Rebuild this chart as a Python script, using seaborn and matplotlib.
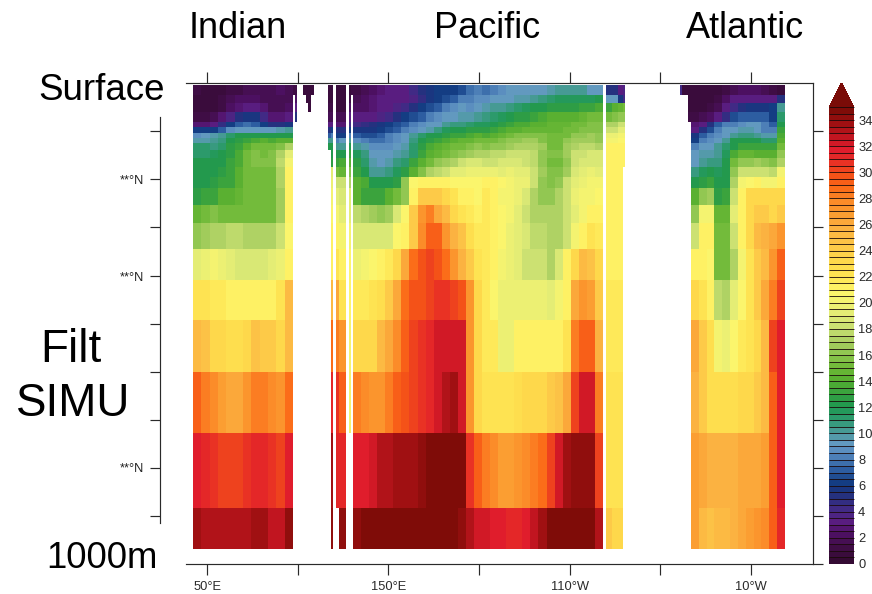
import numpy as np
import matplotlib
matplotlib.use("Agg")
import matplotlib.pyplot as plt
from matplotlib.colors import LinearSegmentedColormap
import seaborn as sns

n = np.nan
FONT = ["Liberation Sans", "DejaVu Sans"]

# depth layer edges (m)
depth_edges = [0, 21.6, 38.8, 58.2, 79.7, 90.5, 103.4, 114.2, 125, 140.1, 157.3, 176.7,
               198.3, 222, 258.6, 297.4, 353.4, 420.3, 506.5, 618.5, 750, 911.6, 1000]

# longitude section edges (deg E)
indian_lon = np.linspace(42.3, 97.4, 13)
indian_edge_lon = [97.4, 98.5, 99.6]
island_lon = [102.9, 104.6, 105.9, 107.3, 108.7]
warmpool_lon = [116.7, 118.1, 119.5, 121.1, 122.8, 126.6, 128.0, 129.4, 130.5]
pacific_lon = np.linspace(130.5, 268.3, 32)
pac_far_lon = [269.7, 273.3, 276.6, 279.3, 280.4]
atl_edge_lon = [310.5, 311.8, 315.4, 316.8]
atlantic_lon = np.linspace(316.8, 368.6, 13)

indian = [
 [1,.8,.8,.9,1.2,1.2,1.5,1.8,1.5,1.5,2,1.8],
 [.5,.5,.8,1,1.5,2,2,2,1.5,1.5,1.5,1.5],
 [.5,.5,.8,1,2,2.5,3,3,2.5,1.5,1.5,2],
 [1,1,1.5,2.5,3.5,5,5.5,5.5,4,2.5,2.5,3],
 [2.5,2.5,3,4.5,6,7,7.5,7,6,5,5,5.5],
 [6,6,6,7,8.5,9,9,9,9,9,9.5,10],
 [8.5,9,9.5,10,11,12,12,12,12,12,12,12],
 [9.5,9.5,10,10.5,12,12.5,13,13.5,14,13.5,14,14],
 [11,11,10.5,11,12.5,13,14,15,15,15,15.5,17],
 [11,11,11.5,12,12.5,13.5,15,15.5,15,15.5,17,19],
 [12,12,12,12,13,13.5,15,15.5,15.5,15.5,17.5,20],
 [12,12,12,12.5,13,14,15,15,15,15,17,21],
 [12,12,12.5,13,13,14,15,15,15,15,17,21],
 [12.5,13,13,14,14,14.5,15,15,15,15,16.5,21],
 [14.5,15,15.5,15,15,15,15,15,15,15,16.5,21],
 [16,16.5,17,17,17.5,17.5,17,17,17,17,18,20.5],
 [19,19.5,20,19.5,19,18.5,18.5,18.5,18.5,19,19.5,21],
 [22,22,21.5,21.5,21,21,21,21,21,21,22,25],
 [25,24.5,23.5,23,22.5,22.5,23.5,24.5,24,24,23.5,25],
 [29,28,27.5,26.5,26,26,27,28,28,27.5,27,28.5],
 [31.5,31,30.5,30,30,30,30.5,31,31,30.5,30,31.5],
 [33.5,33,33,33,33,33,33.3,33.8,33.5,32.5,32.5,34],
]
indian_edge = [[1, 1], [n, 2], [n, 3], [n, 5]]
island = [[.8, .8, .8, .8], [n, .8, .8, n], [n, n, .8, n]]

# columns: edge, strip, slit, strip, strip, slit, strip, narrow
warmpool = [
 [.8,.8,n,.6,.6,n,.6,1],
 [.8,.8,n,.6,.6,n,1,n],
 [1,1,n,.8,.8,n,2,n],
 [1.5,1.5,n,1.5,1.5,n,3,n],
 [3,3,n,2.5,2.5,n,4,n],
 [5,6,n,5,5,n,6,n],
 [7,8,n,6,6,n,8,n],
 [10,10,n,8,9,n,10,n],
 [12,12,n,10,10,n,12,n],
 [n,12,n,12,12,n,13,n],
 [n,12.5,n,13,13.5,n,14,n],
 [n,19,n,15,14.5,n,15.5,n],
 [n,19.5,n,18,18,n,17,n],
 [n,20,n,19,18.5,n,19,n],
 [n,20.5,n,20,19,n,19,n],
 [n,21,n,21,20,n,20,n],
 [n,21,n,22,21,n,20.5,n],
 [n,25,n,26,22,n,20.5,n],
 [n,28.5,n,28,27,n,20,n],
 [n,31,n,30.5,29,n,20,n],
 [n,33.5,n,31,31,n,n,n],
 [n,34,n,n,34,n,n,n],
]

pacific_west = [
 [1.2,1.5,2,2.8,3,3.2,3.2,4,5,5.5,6,6,6,6.5,7.5,8],
 [1.5,2,2.5,3,3,3,3.2,3.5,4.5,5.5,6,6.5,7,8,8,8.5],
 [2,2,2.5,3,3.2,3.5,4,5,6,6.5,7,8,8.5,9,8.5,9],
 [3,3,3.2,3.5,4,5,6,6.5,7,8,8.5,9,9,9.5,9.5,10],
 [4,4.5,5,5.5,6,6.5,7,8,8.5,9,9,10,10.5,10.5,11,11.5],
 [5.5,5.5,5.5,6,6.5,7,8,8.5,9,9.5,10.5,11.5,12,12,12.5,12.5],
 [7,6.5,6.5,7,8,8.5,9,10,11,12,12,12.5,13,13,13.5,14],
 [8.5,8,7.5,7.5,8,8.5,9,10.5,12,12.5,13,13.5,14,14.5,14.5,15],
 [10,9.5,8.5,8.5,8.5,9,9.5,11,12.5,13.5,14,14.5,15,15,15.5,16],
 [11.5,10.5,9,9,9,9.5,10,11,13,14,14.5,15,15.5,16,16.5,17],
 [12.5,11,9.5,9,9.5,10.5,11,13,14,15,16,16.5,17,18,18.5,18.5],
 [13,12,10,10,10.5,11.5,12.5,14,15.5,17,17.5,18,19,19,19.5,19.5],
 [14,13.5,12,12,12,12.5,16,20.5,21,21,21,21,20.5,20.5,20.5,20.5],
 [14,13,13,13,14,15,16,21,24,24,24,23,22,21,21,20.5],
 [17.5,17,16.5,16,16.5,18.5,20.5,24,27,28,26,25,23.5,22,21.5,21],
 [18.5,18.5,18.5,18.5,18.5,20.5,21,24,27.5,29,29,27,25.5,24.5,22.5,21.5],
 [19.5,20,20.5,21,21.5,23,26,28.5,29.5,30,29.5,28.5,27,25.5,24,22],
 [21.5,21.5,22,22.5,24,26,28.5,29.5,29.5,30,30.5,30.5,30,29.5,27,23.5],
 [23,23,23.5,25,26,27.5,29,30,30.5,31,32,32,32,32,27,23],
 [28,27.5,27,27,28,29,29.5,30,30.5,31,32,33,33.5,32,27,23.5],
 [31.5,31.5,32,33,33,33.5,33.5,33.5,34,34.5,35,35,35,34.5,30.5,29],
 [34,35,35,35,35,35,35,35,35,35,35,35,34.5,34,33,32],
]
pacific_east = [
 [7.5,8,8.5,9,9,9,9.2,9.2,9.5,10,10,10,10,9,9],
 [8.5,9,9,9,9.5,9.8,10,10.5,11,11.5,11.5,11.5,11.5,11.5,12],
 [9.5,10,10,10.5,11,11.5,12,12,12.5,12.5,12.5,12.5,13,13,13.5],
 [10.5,11,11.5,12,12.5,12.5,13,13.5,14,14,14,14,14.5,15,15],
 [11.5,12,12.5,13,13.5,13.5,14,14,14.5,14.5,14.5,15,15,15.5,15.5],
 [12.5,13,13.5,14,14,14.5,14.5,14.5,14.5,14.5,15,15,15.5,15.5,15.5],
 [13.5,14,14.5,15,15.5,15.5,15.5,15.5,15,15,15,16,16,16.5,16],
 [15,15,15.5,16,16,16.5,16.5,15.5,15,15,16,16.5,16.5,16.5,16],
 [15.5,16,16,16.5,17,17,17,16.5,15,15,16.5,17,17.5,17.5,17],
 [17,17.5,17.5,18,18,18,17.5,16,15.5,15.5,16.5,18,18,18.5,18.5],
 [18,18,18.5,18.5,18.5,18,17.5,16,15,15,16,18,18.5,18.5,18.5],
 [19.5,19.5,19,19.5,19,19,18,16.5,15.5,15.5,16.5,18.5,19,19.5,19],
 [21,21,20.5,20,19.5,19.5,18,16,15.5,16,18,19,19.5,20,20],
 [21.5,21,20,20,19.5,18.5,17,16,16,17,18,19.5,20,20,20.5],
 [21.5,21,20.5,20,19,18,17,17,17,17,18,19,20,21,21],
 [21.5,21,20.5,19.5,19,18.5,17.5,17.5,17,17,18,20,21,22,21.5],
 [21.5,21,20,19.5,19,18,18,18,17,18.5,21,23,25,24.5,23],
 [21.5,20.5,19.5,19.5,19.5,19.5,19.5,19.5,19,20,21,26,27,26.5,24],
 [21.5,21.5,19.5,19.5,21,21,21,21,21,21,22,28,29,29,25.5],
 [22,22,22,22,22.5,23,23,23.5,24,24.5,26,30,32,32,28],
 [28,27.5,26.5,26.5,27,27.5,28,28.5,30,32,33.5,34,34,34,30],
 [32,31.5,31.5,31,31,31.5,32.5,33.5,35,35,35,35,35,35,33],
]
pac_far = [
 [5,5,3,3.5],[9,9,5.5,4],[13,14,14.5,15],[15,15.5,16,16],[17,17,18,18],[18,18,19,19],
 [19.5,19.5,20,20],[20,20,20.5,20.5],[21,21,21,21],[21,21,21,21],[21,21,21,21],
 [21,21,21,n],[21,21,21,n],[21,21,21,n],[21,21,21,n],[21,21,21,n],[21,21,21,n],
 [21.5,21.5,21.5,n],[21.5,21.5,21.5,n],[22,22,22,n],[22,22,22,n],[24,23.5,23.5,n],
]
atl_edge = [[4, .8, .8], [n, n, .8], [n, n, .8], [n, n, 1]]
atlantic = [
 [.7,.7,.8,.8,1,1.5,2,2,2,1.8,1,.8],
 [.7,.7,.8,1,2,3,3,3,3,3,3,5],
 [.8,.8,1,1.5,3,4,5,5.5,5.5,5.5,6,10],
 [1,1.5,2,3,4.5,6.5,7,7,7,7,6,11],
 [2.5,3,5,7,8,8,8.5,9,9,8,7,12],
 [3,5,6.5,8,9,9,9.5,9.5,9,8,8,13],
 [5.5,7,8,8.5,9,10,10.5,10.5,10,9.5,9.5,13.5],
 [6,8,8.5,9,10,12,12,12,12,11,11,14],
 [8,9,9,10,11,12,13,13,13,13,13,15],
 [9,9.5,9.5,10,11.5,13.5,14.5,14.5,14,14,14,16],
 [9,10,10.5,10.5,12,15,16,16,16.5,16,15.5,17],
 [10.5,11.5,12,11.5,12,16,18,18,18,18,17.5,20],
 [12,12.5,13,12,12,17,20,20.5,21,20,20,21],
 [14,16,16.5,12.5,13,18,21,23,23,23,23,23],
 [16,20,20,14.5,14.5,19,21,23,24,24,23,24],
 [18,21,21,15,15,18,21,23,25,25.5,26,27],
 [21,21,20.5,15,15,17,20,22,24,25,27,29],
 [23.5,22,21,17.5,17,19,20.5,22,24,26,28,30],
 [26,24,22.5,20,19.5,20.5,21.5,22,23.5,25,30,31.5],
 [25.5,24,22.5,22.5,22.5,22.5,23,23.5,24,25,29,31.5],
 [26.5,26,25.5,25.5,25.5,25.5,26,26,26,26.5,29,31.5],
 [26.5,25,24.5,25,25,25.5,26,26.5,27,27.5,29,31],
]

colour_anchors = ["#340a33", "#3f0d45", "#4c1060", "#5a1c80", "#432a85", "#26307f",
                  "#123a80", "#2a5a9f", "#4a7cb5", "#6699c5", "#4a9a9a", "#2e9a70",
                  "#1f9850", "#35a040", "#55ae30", "#6cb836", "#8cc44e", "#a8cf60",
                  "#c5dd70", "#dfeb76", "#f0f272", "#fef66a", "#fee655", "#fedc4c",
                  "#fed04a", "#fcc045", "#fbb040", "#fb9c30", "#fb8a28", "#fb6a18",
                  "#f35018", "#e83025", "#e01c2c", "#c01520", "#a01012", "#7f0c08"]
cbar_ticks = list(range(0, 35, 2))
lon_ticks = [50, 100, 150, 200, 250, 300, 350]
lon_labels = ["50°E", "", "150°E", "", "110°W", "", "10°W"]
depth_ticks = [99, 203, 306, 412, 515, 618, 722, 825, 929, 1032]
depth_labels = ["", "**°N", "", "**°N", "", "", "", "**°N", "", ""]


def pad(rows):
    a = np.full((22, len(rows[0])), np.nan)
    a[:len(rows)] = rows
    return a


def gap():
    return np.full((22, 1), np.nan)


blocks = [
    (indian_lon, np.array(indian, float)),
    (indian_edge_lon, pad(indian_edge)),
    ([99.6, 102.9], gap()),
    (island_lon, pad(island)),
    ([108.7, 116.7], gap()),
    (warmpool_lon, np.array(warmpool, float)),
    (pacific_lon, np.hstack([pacific_west, pacific_east])),
    ([268.3, 269.7], gap()),
    (pac_far_lon, np.array(pac_far, float)),
    ([280.4, 310.5], gap()),
    (atl_edge_lon, pad(atl_edge)),
    (atlantic_lon, np.array(atlantic, float)),
]
lon_edges = np.unique(np.concatenate([np.asarray(b[0], float) for b in blocks]))
values = np.hstack([b[1] for b in blocks])
assert values.shape == (22, len(lon_edges) - 1)

# axes window: one heatmap cell per output pixel
W, H = 872, 594
AX_L, AX_R, AX_T, AX_B = 186, 813, 83, 564
nx, ny = AX_R - AX_L, AX_B - AX_T
lon0, lon1 = 38.4, 384.1
dep0, dep1 = -4.3, 1032.3
lon_c = lon0 + (np.arange(nx) + .5) * (lon1 - lon0) / nx
dep_c = dep0 + (np.arange(ny) + .5) * (dep1 - dep0) / ny
ci = np.searchsorted(lon_edges, lon_c) - 1
ri = np.searchsorted(depth_edges, dep_c) - 1
grid = np.full((ny, nx), np.nan)
for j, c in enumerate(ci):
    if 0 <= c < values.shape[1]:
        for i, r in enumerate(ri):
            if 0 <= r < 22:
                grid[i, j] = values[r, c]

sns.set_theme(style="white")
plt.rcParams["font.family"] = FONT
cmap = LinearSegmentedColormap.from_list("ncl", colour_anchors, N=70)
cmap.set_over("#7a0c08")

fig = plt.figure(figsize=(W / 100, H / 100), dpi=100, facecolor="white")
ax = fig.add_axes([AX_L / W, 1 - AX_B / H, nx / W, ny / H])
cax = fig.add_axes([829 / W, 1 - AX_B / H, 25 / W, (AX_B - AX_T) / H])
sns.heatmap(grid, ax=ax, cmap=cmap, vmin=0, vmax=35, xticklabels=False, yticklabels=False,
            cbar_ax=cax,
            cbar_kws=dict(extend="max", extendfrac=24 / 457, drawedges=True, ticks=cbar_ticks))

EDGE = "#2a2a2a"
LW = 0.85
TICKFONT = 9.3
xpos = (np.array(lon_ticks) - lon0) / (lon1 - lon0) * nx
ypos = (np.array(depth_ticks) - dep0) / (dep1 - dep0) * ny

ax.set_xticks(xpos, lon_labels)
ax.tick_params(axis="x", top=True, bottom=True, length=8, width=LW, color=EDGE, pad=4.5,
               labelsize=TICKFONT, labelcolor=EDGE)
ax.set_yticks(ypos[:-1], depth_labels[:-1])
ax.tick_params(axis="y", left=True, right=False, length=7.2, width=LW, color=EDGE, pad=4.3,
               labelsize=TICKFONT, labelcolor="#222222")
for name in ("top", "bottom"):
    ax.spines[name].set_visible(True)
    ax.spines[name].set_color(EDGE)
    ax.spines[name].set_linewidth(LW)
ax.spines["right"].set_visible(False)
ax.spines["left"].set_visible(True)
ax.spines["left"].set_color(EDGE)
ax.spines["left"].set_linewidth(LW)
ax.spines["left"].set_position(("outward", 18.7))
ax.spines["left"].set_bounds(117 - AX_T, 523 - AX_T)

ax2 = ax.twinx()
ax2.set_ylim(ax.get_ylim())
ax2.set_yticks(ypos, [""] * len(ypos))
ax2.tick_params(axis="y", right=True, left=False, length=7.2, width=LW, color=EDGE)
for name, sp in ax2.spines.items():
    sp.set_visible(name == "right")
    sp.set_color(EDGE)
    sp.set_linewidth(LW)

cbar = ax.collections[0].colorbar
cbar.ax.tick_params(length=0, labelsize=TICKFONT, pad=3, labelcolor=EDGE)
cbar.dividers.set_color("#1a0a0a")
cbar.dividers.set_linewidth(0.6)


def label(x, y, s, size):
    fig.text(x / W, 1 - y / H, s, ha="center", va="center", fontsize=size, color="black",
             family=FONT)


label(237.5, 28, "Indian", 26)
label(487.5, 28, "Pacific", 26)
label(744.5, 28, "Atlantic", 26)
label(101.5, 90.5, "Surface", 26.5)
label(71, 350, "Filt", 33)
label(73, 404, "SIMU", 33)
label(102, 558, "1000m", 26.4)

fig.savefig("out.png", dpi=100, facecolor="white")
